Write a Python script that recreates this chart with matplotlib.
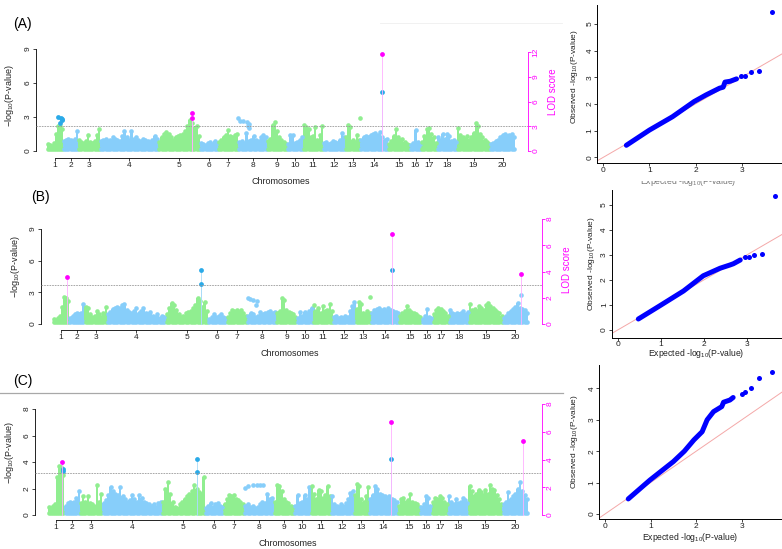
import matplotlib
matplotlib.use("Agg")
import matplotlib.pyplot as plt
from matplotlib.lines import Line2D
from matplotlib.patches import Rectangle
import numpy as np

plt.rcParams['font.family'] = ['Liberation Sans', 'DejaVu Sans']
plt.rcParams['mathtext.fontset'] = 'custom'
plt.rcParams['mathtext.rm'] = 'Liberation Sans'
plt.rcParams['mathtext.it'] = 'Liberation Sans:italic'
plt.rcParams['mathtext.bf'] = 'Liberation Sans:bold'

# ---------------- data ----------------
chrom_names = [str(i) for i in range(1, 21)]
chrom_sizes = [16, 15, 22, 58, 42, 18, 20, 29, 20, 16, 20, 22, 15, 28, 22, 11, 16, 20, 33, 25]

A_heights = [
    [0.6, 0.5, 0.4, 0.7, 1.5, 2.2, 2.2, 1.9],
    [0.9, 1.0, 1.1, 1.0, 0.9, 1.1, 1.77],
    [1.0, 0.8, 0.7, 0.9, 1.4, 0.8, 0.7, 0.9, 1.4, 1.9],
    [0.9, 1.0, 1.1, 0.9, 1.0, 1.2, 1.1, 1.0, 0.9, 1.3, 1.8, 1.2, 1.0, 1.8, 1.1, 1.2, 1.0, 0.9, 1.1, 1.0, 0.9, 0.8, 1.0, 1.3, 1.1],
    [0.8, 1.2, 1.5, 1.7, 1.5, 1.2, 1.0, 1.2, 1.3, 1.4, 1.5, 1.8, 2.2, 2.7, 2.5, 2.0, 2.2, 1.3],
    [0.7, 0.6, 0.5, 0.7, 0.8, 0.6, 0.9, 0.7],
    [0.8, 1.0, 1.2, 1.4, 1.86, 1.3, 1.2, 1.4, 1.5],
    [0.8, 0.9, 0.7, 1.59, 0.9, 1.0, 1.3, 1.0, 0.9, 1.2, 1.4, 1.2],
    [0.9, 1.1, 2.3, 2.6, 1.8, 1.2, 1.0, 0.8, 0.6],
    [0.6, 1.4, 1.45, 0.7, 0.8, 1.0, 1.2],
    [2.3, 2.15, 1.9, 1.2, 1.36, 2.1, 1.0, 1.4, 2.2],
    [0.7, 0.8, 0.6, 0.7, 0.9, 0.8, 0.7, 1.0, 1.56, 1.2],
    [1.2, 2.3, 2.15, 1.0, 0.8, 1.4, 1.0],
    [1.0, 1.2, 1.3, 1.2, 1.4, 1.5, 1.6, 1.4, 1.7, 1.2, 1.0, 1.1],
    [0.6, 0.9, 1.3, 1.9, 1.2, 1.0, 1.1, 0.8, 0.6, 0.5],
    [0.5, 0.7, 1.86, 0.8, 0.6],
    [0.8, 1.3, 1.9, 2.0, 1.5, 1.2, 0.7],
    [1.2, 1.0, 1.5, 1.1, 1.5, 1.3, 0.9, 1.0, 0.8],
    [2.06, 1.4, 1.2, 1.1, 1.3, 1.0, 1.2, 1.6, 2.5, 2.2, 1.5, 1.2, 1.0, 0.8, 0.6],
    [0.6, 0.7, 0.9, 1.0, 1.2, 1.4, 1.5, 1.3, 1.4, 1.5, 1.2],
]
B_heights = [
    [0.5, 0.4, 0.6, 0.8, 1.6, 2.6, 2.5, 2.2],
    [0.6, 0.8, 0.9, 1.0, 0.9, 1.0, 1.9],
    [1.6, 1.5, 0.9, 0.7, 0.8, 1.2, 0.9, 0.7, 1.0, 1.6],
    [0.9, 1.1, 1.4, 1.5, 1.6, 1.5, 1.8, 1.9, 1.3, 1.1, 1.0, 1.2, 1.5, 1.0, 1.2, 1.5, 1.0, 0.9, 1.1, 0.8, 0.7, 0.9, 0.6, 0.8, 0.7],
    [0.9, 1.5, 2.0, 1.8, 1.3, 0.9, 0.7, 0.8, 1.0, 1.1, 1.2, 1.5, 1.8, 2.5, 2.2, 1.6, 2.05, 1.2],
    [0.5, 0.7, 0.9, 0.7, 0.8, 0.9, 0.7, 0.6],
    [0.7, 1.0, 1.3, 1.2, 1.35, 1.1, 1.3, 1.0, 0.8],
    [0.8, 1.0, 0.9, 0.7, 0.8, 1.1, 0.9, 1.0, 1.1, 1.2, 1.0, 1.1],
    [1.0, 1.2, 2.46, 2.24, 1.3, 1.1, 1.0, 0.9, 0.7],
    [0.6, 1.1, 0.8, 1.1, 0.9, 1.2, 1.5],
    [1.8, 1.2, 1.5, 1.0, 1.7, 1.2, 1.3, 1.9, 1.2],
    [0.7, 0.8, 0.6, 0.7, 0.6, 0.8, 0.7, 1.2, 1.7, 2.1],
    [1.4, 2.1, 1.9, 1.0, 0.9, 1.2, 1.0],
    [1.0, 1.3, 1.4, 1.5, 1.3, 1.4, 1.2, 1.5, 1.3, 1.2, 1.1, 1.0],
    [0.8, 1.0, 1.2, 1.7, 1.3, 1.1, 1.0, 0.9, 0.8, 0.7],
    [0.5, 0.8, 1.4, 0.7, 0.6],
    [0.9, 1.36, 1.5, 1.4, 1.2, 1.0, 0.8],
    [1.36, 1.0, 0.9, 1.0, 0.9, 1.0, 1.2, 0.9, 1.1],
    [1.9, 1.3, 1.4, 1.2, 1.7, 1.5, 1.3, 1.8, 2.0, 1.7, 1.5, 1.3, 1.1, 1.0, 0.8],
    [0.6, 0.8, 1.0, 1.2, 1.4, 1.6, 2.0, 1.5, 1.4, 1.3, 1.0],
]
C_heights = [
    [0.6, 0.5, 0.7, 0.8, 2.9, 3.7, 3.6, 3.0],
    [0.7, 0.9, 1.0, 0.9, 1.0, 1.3, 1.8],
    [0.9, 1.46, 1.0, 1.46, 0.9, 0.8, 0.7, 2.3, 1.0, 1.56],
    [0.9, 1.1, 1.5, 2.1, 1.8, 1.6, 1.5, 2.1, 1.4, 1.2, 1.0, 1.1, 1.5, 1.2, 1.0, 1.5, 1.3, 1.0, 0.9, 0.8, 0.7, 0.8, 0.6, 0.9, 1.0],
    [1.0, 2.0, 2.5, 1.6, 1.0, 0.6, 0.5, 0.8, 1.0, 1.2, 1.4, 1.6, 1.8, 2.3, 2.0, 1.7, 1.6, 2.87],
    [0.5, 0.7, 0.9, 0.6, 0.8, 0.9, 0.7, 0.6],
    [0.8, 1.2, 1.5, 1.4, 1.5, 1.2, 1.1, 1.0, 0.8],
    [0.7, 0.8, 0.6, 0.7, 0.5, 0.6, 0.8, 1.0, 0.9, 1.6, 1.2, 1.3],
    [1.0, 2.3, 2.2, 1.8, 1.2, 1.0, 0.9, 0.7, 0.6],
    [0.7, 1.5, 0.9, 1.0, 1.5, 1.2, 2.1],
    [2.16, 1.6, 1.2, 1.9, 1.8, 1.3, 1.5, 2.2, 1.4],
    [1.46, 0.8, 0.7, 0.6, 0.8, 0.7, 0.9, 1.2, 1.66, 1.8],
    [1.5, 2.36, 2.16, 1.2, 1.0, 1.4, 2.1],
    [1.2, 1.5, 2.2, 2.0, 1.6, 1.5, 1.4, 1.3, 1.4, 1.2, 1.1, 1.0],
    [0.7, 1.2, 1.3, 1.0, 1.1, 1.6, 1.0, 0.9, 0.8, 0.6],
    [0.6, 0.8, 1.4, 1.3, 0.7],
    [1.0, 1.3, 1.2, 1.4, 1.3, 1.0, 0.8],
    [1.4, 1.0, 0.8, 1.2, 0.9, 1.0, 1.3, 1.1, 0.9],
    [2.2, 1.8, 1.4, 1.6, 1.9, 1.7, 1.5, 1.9, 1.6, 2.3, 2.0, 1.9, 1.5, 1.2, 0.8],
    [0.8, 1.0, 1.7, 1.2, 1.4, 1.6, 2.0, 2.46, 1.8, 1.5, 1.2],
]

# isolated SNPs: (chromosome, relative position in chromosome, -log10 P)
A_extra = [(8, 0.01, 2.89), (8, 0.07, 2.65), (8, 0.18, 2.65), (8, 0.30, 2.59),
           (8, 0.33, 2.23), (8, 0.38, 2.35), (8, 0.39, 2.06), (13, 0.97, 2.94)]
B_extra = [(8, 0.05, 2.46), (8, 0.10, 2.37), (8, 0.22, 2.24), (8, 0.33, 2.15),
           (8, 0.31, 1.83), (13, 0.95, 2.6), (20, 0.71, 2.72)]
C_extra = [(8, 0.04, 2.04), (8, 0.15, 2.2), (8, 0.32, 2.3), (8, 0.43, 2.3),
           (8, 0.54, 2.3), (8, 0.65, 2.3)]

# significant SNPs (-log10 P, highlighted blue)
A_sig = [(1, 0.71, 3.04), (1, 0.875, 2.92), (1, 0.96, 2.8), (1, 0.81, 2.45), (1, 0.92, 2.7), (14, 0.775, 5.18)]
B_sig = [(5, 0.83, 5.08), (5, 0.83, 3.8), (14, 0.76, 5.08)]
C_sig = [(1, 0.93, 3.47), (1, 0.93, 3.35), (5, 0.82, 4.25), (5, 0.82, 3.22), (14, 0.77, 4.25)]

# LOD scores (magenta, right axis)
A_lod = [(5, 0.82, 4.57), (5, 0.82, 3.96), (14, 0.775, 11.8)]
B_lod = [(1, 0.88, 3.6), (14, 0.76, 6.83), (20, 0.71, 3.79)]
C_lod = [(1, 0.84, 3.82), (14, 0.77, 6.72), (20, 0.79, 5.35)]

LOD_threshold = 3

# QQ plots: dense part (expected, observed) and top tail points
A_qq_exp = [0.5, 1.0, 1.5, 1.97, 2.23, 2.52, 2.6, 2.64, 2.75, 2.89]
A_qq_obs = [0.45, 1.02, 1.52, 2.09, 2.34, 2.59, 2.63, 2.82, 2.85, 2.94]
A_tail_exp = [2.98, 3.08, 3.2, 3.38, 3.67]
A_tail_obs = [3.05, 3.05, 3.21, 3.24, 5.46]

B_qq_exp = [0.48, 0.98, 1.53, 1.99, 2.38, 2.61, 2.69, 2.85]
B_qq_obs = [0.44, 0.97, 1.56, 2.17, 2.47, 2.6, 2.65, 2.8]
B_tail_exp = [2.95, 3.06, 3.18, 3.35, 3.66]
B_tail_obs = [2.91, 2.93, 3.0, 3.03, 5.37]

C_qq_exp = [0.51, 0.985, 1.5, 1.74, 1.95, 2.13, 2.24, 2.38, 2.56, 2.6, 2.74, 2.81]
C_qq_obs = [0.48, 1.08, 1.67, 2.0, 2.36, 2.62, 3.0, 3.26, 3.42, 3.56, 3.63, 3.71]
C_tail_exp = [3.0, 3.08, 3.2, 3.38, 3.67]
C_tail_obs = [3.82, 3.9, 4.02, 4.34, 4.53]

# ---------------- styling ----------------
GREEN = '#90EE90'
BLUE = '#87CEFA'
SIGBLUE = '#2AAAE8'
MAGENTA = '#FF00FF'
PINK = '#FFB0FF'
LIGHTBLUE = '#A8DCF8'

W, H = 782, 549
fig = plt.figure(figsize=(W / 100, H / 100), dpi=100)


def px_axes(left, right, top, bottom):
    return fig.add_axes([left / W, 1 - bottom / H, (right - left) / W, (bottom - top) / H])


def ftext(x, y, s, **kw):
    return fig.text(x / W, 1 - y / H, s, **kw)


starts = np.concatenate([[0], np.cumsum(chrom_sizes)[:-1]])
centers = starts + np.array(chrom_sizes) / 2.0
total = float(sum(chrom_sizes))


def pos(ch, rel):
    return starts[ch - 1] + rel * chrom_sizes[ch - 1]


def manhattan(lay, heights, extra, sig, lod, yticks, lodticks):
    left, right, top, bottom = lay['box']
    zero, ppl, ppr = lay['zero'], lay['ppu_l'], lay['ppu_r']
    dl, dr = lay['data']
    ax = px_axes(left, right, top, bottom)
    scale = (dr - dl) / total
    ax.set_xlim((left - dl) / scale, total + (right - dr) / scale)
    ax.set_ylim((zero - bottom) / ppl, (zero - top) / ppl)
    base = 0.08
    for i, h in enumerate(heights):
        n = len(h)
        w = chrom_sizes[i] / n
        xs = starts[i] + w * (np.arange(n) + 0.5)
        col = GREEN if i % 2 == 0 else BLUE
        hv = np.array(h)
        ax.bar(xs, hv - base, bottom=base, width=w * 1.05, color=col, linewidth=0, zorder=2)
        ax.scatter(xs, hv, s=11, color=col, linewidths=0, zorder=3)
        ax.scatter(xs, np.full(n, base + 0.1), s=11, color=col, linewidths=0, zorder=3)
    for ch, rel, v in extra:
        col = GREEN if (ch - 1) % 2 == 0 else BLUE
        ax.scatter([pos(ch, rel)], [v], s=11, color=col, linewidths=0, zorder=3)
    for ch, rel, v in sig:
        if ch in (5, 14):
            ax.plot([pos(ch, rel)] * 2, [0, v], color=LIGHTBLUE, lw=0.6, zorder=4)
    for ch, rel, v in sig:
        ax.scatter([pos(ch, rel)], [v], s=12, color=SIGBLUE, linewidths=0, zorder=5)

    for s in ['top', 'right']:
        ax.spines[s].set_visible(False)
    ax.spines['left'].set_bounds(yticks[0], yticks[-1])
    ax.spines['left'].set_linewidth(0.6)
    ax.spines['bottom'].set_position(('outward', lay['xout'] * 0.72))
    ax.spines['bottom'].set_bounds(centers[0], centers[-1])
    ax.spines['bottom'].set_linewidth(0.6)
    ax.set_yticks(yticks)
    ax.set_yticklabels([str(t) for t in yticks], rotation=90, va='center')
    ax.set_xticks(centers)
    ax.set_xticklabels(chrom_names)
    ax.tick_params(axis='y', length=2.5, width=0.6, pad=0.8, labelsize=6, colors='#222222')
    ax.tick_params(axis='x', length=2, width=0.6, pad=0.8, labelsize=6, colors='#222222')

    ax2 = ax.twinx()
    ax2.set_ylim((zero - bottom) / ppr, (zero - top) / ppr)
    for s in ['top', 'left', 'bottom']:
        ax2.spines[s].set_visible(False)
    ax2.spines['right'].set_bounds(lodticks[0], lodticks[-1])
    ax2.spines['right'].set_color(MAGENTA)
    ax2.spines['right'].set_linewidth(0.6)
    ax2.set_yticks(lodticks)
    ax2.set_yticklabels([str(t) for t in lodticks], rotation=90, va='center')
    ax2.tick_params(axis='y', length=2.5, width=0.6, pad=0.8, labelsize=6, colors=MAGENTA)
    ax2.axhline(LOD_threshold, color='#999999', lw=0.6, ls=(0, (2, 1.2)), zorder=1)
    for ch, rel, v in lod:
        ax2.plot([pos(ch, rel)] * 2, [0, v], color=PINK, lw=0.6, zorder=2)
    for ch, rel, v in lod:
        ax2.scatter([pos(ch, rel)], [v], s=12, color=MAGENTA, linewidths=0, zorder=5)
    return ax, ax2


def qqplot(lay, de, do, te, to, yticks):
    left, top, bottom = lay['box']
    right = 790
    zx, ppx, zy, ppy = lay['zx'], lay['ppx'], lay['zy'], lay['ppy']
    ax = px_axes(left, right, top, bottom)
    ax.set_xlim((left - zx) / ppx, (right - zx) / ppx)
    ax.set_ylim((zy - bottom) / ppy, (zy - top) / ppy)
    ax.plot([-1, 7], [-1, 7], color='#F4A8A8', lw=0.7, zorder=1)
    ax.plot(de, do, color='#0000FF', lw=3.6, solid_capstyle='round', solid_joinstyle='round', zorder=3)
    ax.scatter(te, to, s=13, color='#0000FF', linewidths=0, zorder=3)
    for s in ['top', 'right']:
        ax.spines[s].set_visible(False)
    for s in ['left', 'bottom']:
        ax.spines[s].set_linewidth(0.7)
    ax.set_xticks([0, 1, 2, 3])
    ax.set_yticks(yticks)
    ax.set_yticklabels([str(t) for t in yticks], rotation=90, va='center')
    ax.tick_params(length=2, width=0.6, pad=0.6, labelsize=6, colors='#222222')
    return ax


# ---------------- Manhattan panels ----------------
lay_A = dict(box=(36, 528, 45, 154), zero=151, ppu_l=11.333, ppu_r=8.25, data=(47, 515), xout=4)
lay_B = dict(box=(41, 542, 215, 327), zero=324, ppu_l=10.556, ppu_r=13.125, data=(53, 528), xout=3)
lay_C = dict(box=(35, 542, 400, 518), zero=515, ppu_l=13.25, ppu_r=13.875, data=(48, 528), xout=2)

manhattan(lay_A, A_heights, A_extra, A_sig, A_lod, [0, 3, 6, 9], [0, 3, 6, 9, 12])
manhattan(lay_B, B_heights, B_extra, B_sig, B_lod, [0, 3, 6, 9], [0, 2, 4, 6, 8])
manhattan(lay_C, C_heights, C_extra, C_sig, C_lod, [0, 2, 4, 6, 8], [0, 2, 4, 6, 8])

ylab = r'$\mathregular{-log_{10}}$(P-value)'
for (x, y) in [(10, 96), (15, 267), (10, 453)]:
    ftext(x, y, ylab, rotation=90, ha='center', va='center', fontsize=6.5, color='#222222')
for (x, y) in [(281, 182), (290, 353), (288, 544)]:
    ftext(x, y, 'Chromosomes', ha='center', va='center', fontsize=6.5, color='#222222')
for (x, y) in [(553, 92), (567, 270)]:
    ftext(x, y, 'LOD score', rotation=90, ha='center', va='center', fontsize=7, color=MAGENTA)

ftext(13, 24, '(A)', ha='left', va='center', fontsize=10)
ftext(31, 197, '(B)', ha='left', va='center', fontsize=10)
ftext(13, 381, '(C)', ha='left', va='center', fontsize=10)

# ---------------- QQ panels ----------------
qA = dict(box=(597, 5, 163.3), zx=603.3, ppx=46.1, zy=157.3, ppy=26.67)
qB = dict(box=(611.7, 190, 337.7), zx=617.7, ppx=43.0, zy=330, ppy=25.0)
qC = dict(box=(599.3, 365, 519), zx=605, ppx=45.6, zy=514, ppy=31.4)
qqplot(qA, A_qq_exp, A_qq_obs, A_tail_exp, A_tail_obs, [0, 1, 2, 3, 4, 5])
qqplot(qB, B_qq_exp, B_qq_obs, B_tail_exp, B_tail_obs, [0, 1, 2, 3, 4, 5])
qqplot(qC, C_qq_exp, C_qq_obs, C_tail_exp, C_tail_obs, [0, 1, 2, 3, 4])

olab = r'Observed -log$_{10}$(P-value)'
elab = r'Expected -log$_{10}$(P-value)'
for (x, y) in [(575, 77), (591.7, 264), (575, 442)]:
    ftext(x, y, olab, rotation=90, ha='center', va='center', fontsize=6, color='#222222')
for (x, y) in [(696, 354), (690, 538)]:
    ftext(x, y, elab, ha='center', va='center', fontsize=6.2, color='#222222')
# partially hidden label of the first QQ plot
tA = ftext(688, 182, elab, ha='center', va='center', fontsize=6.2, color='#777777')
clip = Rectangle((600 / W, 1 - 188 / H), 180 / W, 7 / H, transform=fig.transFigure)
tA.set_clip_path(clip)

# separator lines
fig.add_artist(Line2D([0, 563 / W], [1 - 393 / H] * 2, color='#A8A8A8', lw=0.9))
fig.add_artist(Line2D([380 / W, 562 / W], [1 - 23 / H] * 2, color='#EFEFEF', lw=0.6))

fig.savefig('out.png', dpi=100)
